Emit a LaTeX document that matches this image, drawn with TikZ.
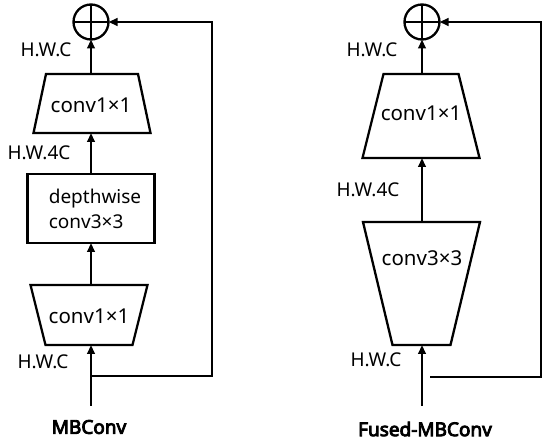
\documentclass[tikz,border=0pt]{standalone}
\usepackage{fontspec}
\setmainfont{Noto Sans}[AutoFakeBold=4.5]
\usetikzlibrary{arrows.meta}
\begin{document}
\begin{tikzpicture}[x=1pt,y=-1pt, line width=2.3pt,
  arr/.style={-{Triangle[length=9pt,width=7.5pt]}},
  area/.style={rectangle, inner sep=0pt, outer sep=0pt},
  lbl/.style={font=\fontsize{19}{25}\selectfont, inner sep=0pt},
  ctext/.style={font=\fontsize{20.5}{24}\selectfont, inner sep=0pt},
  title/.style={font=\bfseries\fontsize{19}{22}\selectfont, inner sep=0pt},
  sum/.style={draw, circle, minimum size=35pt, inner sep=0pt, outer sep=0pt}]
\useasboundingbox (0,0) rectangle (550,446);

% ---------- MBConv ----------
\node[sum] (s1) at (91,22) {};
\draw[line width=2pt] (s1.north) -- (s1.south) (s1.west) -- (s1.east);
% top trapezoid (wide at bottom)
\node[area, minimum width=117pt, minimum height=59pt] (t1) at (92,103.5) {};
\draw[line join=miter] ([xshift=12.5pt]t1.north west) -- ([xshift=-12.5pt]t1.north east)
   -- (t1.south east) -- (t1.south west) -- cycle;
\node[ctext] (t1txt) at (91,105) {conv1×1};
% depthwise box
\node[draw, area, minimum width=127pt, minimum height=69pt] (b1) at (91,208.5) {};
\node[lbl, align=left] (b1txt) at (95,209) {depthwise\\conv3×3};
% bottom trapezoid (wide at top)
\node[area, minimum width=117pt, minimum height=60pt] (t2) at (89,315) {};
\draw ([xshift=15pt]t2.south west) -- ([xshift=-15pt]t2.south east)
   -- (t2.north east) -- (t2.north west) -- cycle;
\node[ctext] (t2txt) at (89,316) {conv1×1};

\coordinate (in1) at (91,406);
\coordinate (j1) at (91,376);
\coordinate (k1) at (212,376);
\coordinate (k1t) at (212,22);
\draw[arr] (in1) -- (t2.south -| in1);
\draw[arr] (t2.north -| in1) -- (b1.south -| in1);
\draw[arr] (b1.north -| in1) -- (t1.south -| in1);
\draw[arr] (t1.north -| in1) -- (s1.south);
\draw[arr] (j1) -- (k1) -- (k1t) -- (s1.east);

\node[lbl] (l1) at (46,50) {H.W.C};
\node[lbl] (l2) at (39,153) {H.W.4C};
\node[lbl] (l3) at (43,362) {H.W.C};
\node[title] (tt1) at (89,427) {MBConv};

% ---------- Fused-MBConv ----------
\node[sum] (s2) at (422,22) {};
\draw[line width=2pt] (s2.north) -- (s2.south) (s2.west) -- (s2.east);
\node[area, minimum width=117pt, minimum height=84pt] (t3) at (421,116) {};
\draw ([xshift=21pt]t3.north west) -- ([xshift=-21pt]t3.north east)
   -- (t3.south east) -- (t3.south west) -- cycle;
\node[ctext] (t3txt) at (421,113) {conv1×1};
\node[area, minimum width=117pt, minimum height=123pt] (t4) at (421.5,283.5) {};
\draw ([xshift=29.5pt]t4.south west) -- ([xshift=-29.5pt]t4.south east)
   -- (t4.north east) -- (t4.north west) -- cycle;
\node[ctext] (t4txt) at (422,258) {conv3×3};

\coordinate (in2) at (422,406);
\coordinate (j2) at (430,377);
\coordinate (k2) at (541,377);
\coordinate (k2t) at (541,22);
\draw[arr] (in2) -- (t4.south -| in2);
\draw[arr] (t4.north -| in2) -- (t3.south -| in2);
\draw[arr] (t3.north -| in2) -- (s2.south);
\draw[arr] (j2) -- (k2) -- (k2t) -- (s2.east);

\node[lbl] (l4) at (372,50) {H.W.C};
\node[lbl] (l5) at (368,190) {H.W.4C};
\node[lbl] (l6) at (376,360) {H.W.C};
\node[title] (tt2) at (425,429) {Fused-MBConv};
\end{tikzpicture}
\end{document}
